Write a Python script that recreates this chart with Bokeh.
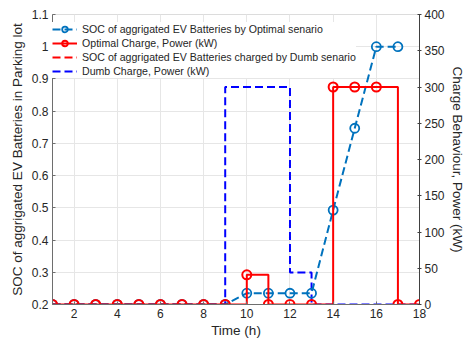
from bokeh.plotting import figure
from bokeh.models import Range1d, LinearAxis, Legend, LegendItem, FixedTicker, CustomJSTickFormatter
from bokeh.embed import file_html
from bokeh.resources import INLINE

hours = list(range(1, 19))
soc_optimal = [0.2, 0.2, 0.2, 0.2, 0.2, 0.2, 0.2, 0.2, 0.2, 0.235, 0.235, 0.235, 0.235, 0.493, 0.747, 1.0, 1.0]
soc_hours = list(range(1, 18))
optimal_power = [0, 0, 0, 0, 0, 0, 0, 0, 0, 41, 0, 0, 0, 300, 300, 300, 0, 0]
dumb_power = [0, 0, 0, 0, 0, 0, 0, 0, 300, 300, 300, 44, 0, 0, 0, 0, 0, 0]
dumb_soc_hours = list(range(1, 10))
dumb_soc = [0.2, 0.2, 0.2, 0.2, 0.2, 0.2, 0.2, 0.2, 0.2]

x_ticks = [2, 4, 6, 8, 10, 12, 14, 16, 18]
left_ticks = [0.2, 0.3, 0.4, 0.5, 0.6, 0.7, 0.8, 0.9, 1.0, 1.1]
right_ticks = [0, 50, 100, 150, 200, 250, 300, 350, 400]

FONT = "Liberation Sans"
BLUE = "#0072BD"
DBLUE = "#0000FF"
RED = "#FF0000"

p = figure(width=467, height=340, output_backend="svg", toolbar_location=None,
           x_range=Range1d(1, 18), y_range=Range1d(0.2, 1.1),
           min_border_left=52, min_border_right=43, min_border_top=14, min_border_bottom=35)
p.extra_y_ranges = {"pw": Range1d(0, 400)}
p.outline_line_color = "#dcdcdc"
p.background_fill_color = "white"
p.border_fill_color = "white"

# grid
p.xgrid.ticker = FixedTicker(ticks=x_ticks)
p.ygrid.ticker = FixedTicker(ticks=left_ticks)
for g in (p.xgrid, p.ygrid):
    g.grid_line_color = "#e6e6e6"
    g.grid_line_width = 1

# axes
xa = p.xaxis[0]
xa.ticker = FixedTicker(ticks=x_ticks)
xa.axis_label = "Time (h)"
ya = p.yaxis[0]
ya.ticker = FixedTicker(ticks=left_ticks)
ya.axis_label = "SOC of aggrigated EV Batteries in Parking lot"
ya.formatter = CustomJSTickFormatter(code="return (Math.round(tick*10)/10).toString();")

ra = LinearAxis(y_range_name="pw", ticker=FixedTicker(ticks=right_ticks),
                axis_label="Charge Behaviour, Power (kW)")
p.add_layout(ra, "right")

for ax, col in ((xa, "#6e6e6e"), (ya, "#6e6e6e"), (ra, "#404040")):
    ax.axis_line_color = col
    ax.major_tick_line_color = col
    ax.major_tick_in = 3
    ax.major_tick_out = 0
    ax.minor_tick_line_color = None
    ax.major_label_text_font = FONT
    ax.major_label_text_font_size = "12px"
    ax.major_label_text_color = "#262626"
    ax.axis_label_text_font = FONT
    ax.axis_label_text_font_size = "13.5px"
    ax.axis_label_text_font_style = "normal"
    ax.axis_label_text_color = "#262626"
    ax.major_label_standoff = 4
    ax.axis_label_standoff = 4
ra.major_tick_out = 2
ra.major_tick_in = 2
ra.major_label_standoff = 3
ra.axis_label_standoff = 2
xa.axis_label_standoff = 2

# dumb SOC (hidden under optimal power line)
r_dsoc = p.line(dumb_soc_hours, dumb_soc, color=RED, line_width=2, line_dash="8 4")

# dumb charge
r_dp = p.step(hours, dumb_power, mode="after", y_range_name="pw", color=DBLUE,
              line_width=2, line_dash="8 4")

# optimal SOC
r_soc_l = p.line(soc_hours, soc_optimal, color=BLUE, line_width=2, line_dash="8 4")
r_soc_m = p.scatter(soc_hours, soc_optimal, marker="circle", size=9, line_color=BLUE,
                    fill_color=None, line_width=1.8)

# optimal charge
r_op_l = p.step(hours, optimal_power, mode="after", y_range_name="pw", color=RED, line_width=2)
r_op_m = p.scatter(hours, optimal_power, marker="circle", size=9, y_range_name="pw",
                   line_color=RED, fill_color=None, line_width=2)

legend = Legend(items=[
    LegendItem(label="SOC of aggrigated EV Batteries by Optimal senario", renderers=[r_soc_l, r_soc_m]),
    LegendItem(label="Optimal Charge, Power (kW)", renderers=[r_op_l, r_op_m]),
    LegendItem(label="SOC of aggrigated EV Batteries charged by Dumb senario", renderers=[r_dsoc]),
    LegendItem(label="Dumb Charge, Power (kW)", renderers=[r_dp]),
], location=(0, 226))
legend.label_text_font = FONT
legend.label_text_font_size = "10.6px"
legend.label_text_color = "#262626"
legend.glyph_width = 25
legend.glyph_height = 14
legend.label_height = 14
legend.spacing = 0
legend.padding = 3
legend.margin = 0
legend.label_standoff = 5
legend.border_line_color = None
legend.background_fill_color = "white"
legend.background_fill_alpha = 1.0
p.add_layout(legend)

open("out.html", "w").write(file_html(p, INLINE))
